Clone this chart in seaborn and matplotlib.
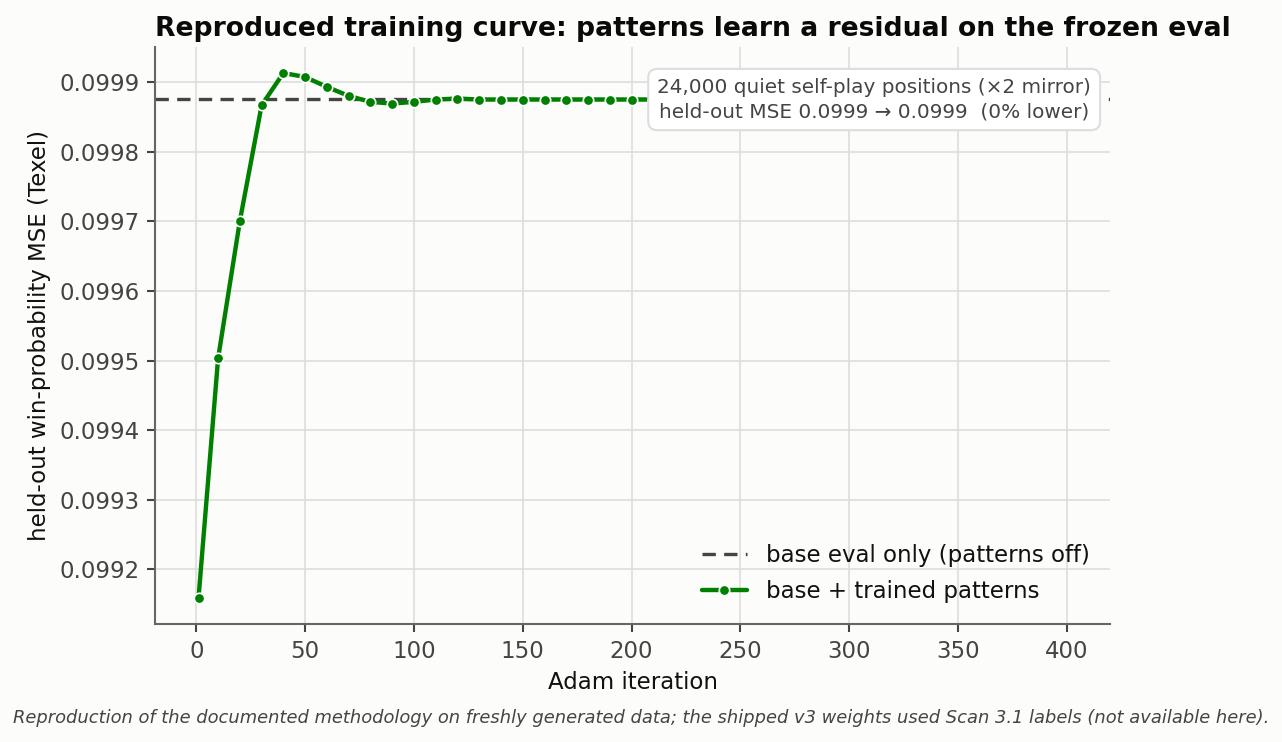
import numpy as np
import pandas as pd
import matplotlib
matplotlib.use("Agg")
import matplotlib.pyplot as plt
import matplotlib.ticker as mticker
import seaborn as sns

# Adam iterations at which the held-out MSE was logged
iterations = [1, 10, 20, 30, 40, 50, 60, 70, 80, 90, 100,
              110, 120, 130, 140, 150, 160, 170, 180, 190, 200,
              210, 220, 230, 240, 250, 260, 270, 280, 290, 300,
              310, 320, 330, 340, 350, 360, 370, 380, 390, 400]

# base + trained patterns (held-out MSE)
trained_mse = [0.0991593, 0.0995034, 0.0997006, 0.0998666, 0.0999129,
               0.0999071, 0.0998929, 0.0998800, 0.0998714, 0.0998690,
               0.0998714, 0.0998748, 0.0998762, 0.0998748, 0.0998748,
               0.0998748, 0.0998748, 0.0998748, 0.0998748, 0.0998748,
               0.0998748, 0.0998748, 0.0998748, 0.0998748, 0.0998748,
               0.0998748, 0.0998748, 0.0998748, 0.0998748, 0.0998748,
               0.0998748, 0.0998748, 0.0998748, 0.0998748, 0.0998748,
               0.0998748, 0.0998748, 0.0998748, 0.0998748, 0.0998748,
               0.0998748]

# base eval only (patterns off)
base_mse = 0.0998762

BG = "#fcfcfa"


def main():
    sns.set_style("whitegrid", {
        "axes.facecolor": BG,
        "figure.facecolor": BG,
        "grid.color": "#dddddd",
        "axes.edgecolor": "#666666",
        "text.color": "#111111",
        "axes.labelcolor": "#111111",
    })
    plt.rcParams["font.family"] = ["DejaVu Sans"]

    df = pd.DataFrame({"iteration": iterations, "mse": trained_mse})

    fig = plt.figure(figsize=(1282 / 150, 742 / 150), dpi=150)
    ax = fig.add_axes([0.121, 0.159, 0.745, 0.778])

    ax.axhline(base_mse, color="#444444", lw=1.6, ls=(0, (4, 2.5)),
               label="base eval only (patterns off)", zorder=2)
    sns.lineplot(data=df, x="iteration", y="mse", ax=ax, color="green",
                 lw=2.1, marker="o", markersize=5, markeredgecolor="white",
                 markeredgewidth=0.8, label="base + trained patterns", zorder=3)

    ax.yaxis.set_major_formatter(mticker.FormatStrFormatter("%.4f"))
    ax.tick_params(axis="both", labelsize=11, colors="#444444",
                   length=4, width=1.0, left=True, bottom=True)
    ax.tick_params(axis="both", labelcolor="#444444")
    for side in ["top", "right"]:
        ax.spines[side].set_visible(False)
    for side in ["left", "bottom"]:
        ax.spines[side].set_color("#666666")
        ax.spines[side].set_linewidth(1.0)
    ax.grid(True, lw=0.8)

    ax.set_xlabel("Adam iteration", fontsize=11, color="#111111")
    ax.set_ylabel("held-out win-probability MSE (Texel)", fontsize=11, color="#111111")
    ax.set_title("Reproduced training curve: patterns learn a residual on the frozen eval",
                 loc="left", fontsize=12.8, fontweight="bold", pad=5, color="#0a0a0a")

    ax.legend(loc="lower right", frameon=False, fontsize=11,
              bbox_to_anchor=(1.0, 0.0), labelspacing=0.6)

    ax.text(0.98, 0.946,
            "24,000 quiet self-play positions (\u00d72 mirror)\n"
            "held-out MSE 0.0999 \u2192 0.0999  (0% lower)",
            transform=ax.transAxes, ha="right", va="top", ma="center",
            fontsize=9.6, color="#444444", zorder=5, linespacing=1.35,
            bbox=dict(boxstyle="round,pad=0.45", fc="white", ec="#dddddd", lw=1.0))

    fig.text(0.5, 0.033,
             "Reproduction of the documented methodology on freshly generated data; "
             "the shipped v3 weights used Scan 3.1 labels (not available here).",
             ha="center", va="center", fontsize=8.6, style="italic", color="#444444")

    fig.savefig("out.png", dpi=150, facecolor=BG)


if __name__ == "__main__":
    main()
